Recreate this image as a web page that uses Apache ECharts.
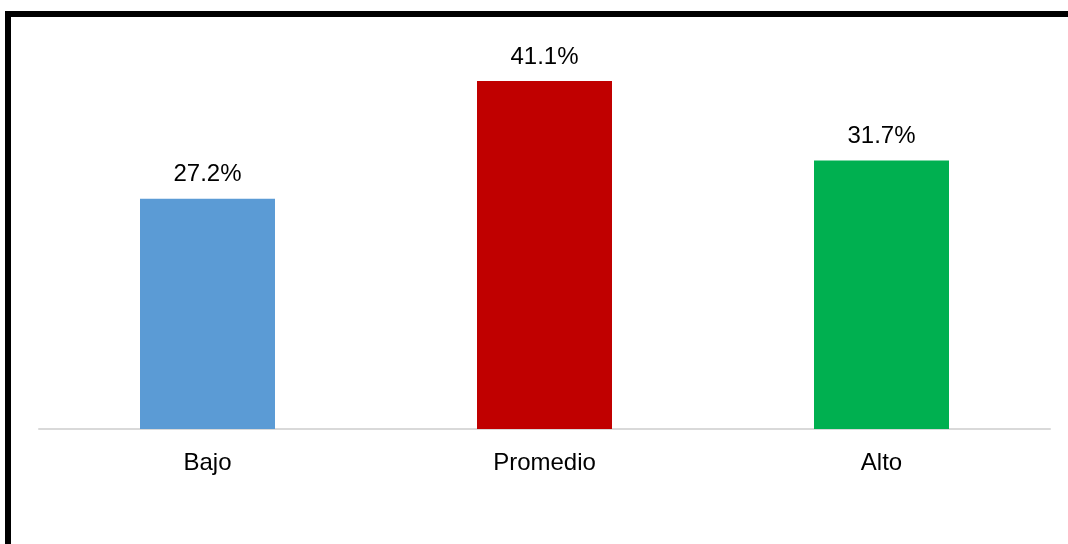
<!DOCTYPE html>
<html>
<head>
<meta charset="utf-8">
<script src="https://cdn.jsdelivr.net/npm/echarts@6/dist/echarts.min.js"></script>
<style>
  html, body { margin: 0; padding: 0; background: #fff; }
  #chart { width: 1068px; height: 544px; }
</style>
</head>
<body>
<div id="chart"></div>
<script>
const categories = ['Bajo', 'Promedio', 'Alto'];
const values = [27.2, 41.1, 31.7];
const barColors = ['#5b9bd5', '#c00000', '#00b050'];

const chart = echarts.init(document.getElementById('chart'));
chart.setOption({
  animation: false,
  graphic: [{
    type: 'rect',
    shape: { x: 8, y: 14, width: 1200, height: 700 },
    style: { fill: 'none', stroke: '#000', lineWidth: 6 },
    silent: true
  }],
  grid: { left: 39, right: 18, top: 48, bottom: 115 },
  xAxis: {
    type: 'category',
    data: categories,
    axisLine: { lineStyle: { color: '#d9d9d9', width: 2 } },
    axisTick: { show: false },
    axisLabel: {
      color: '#000',
      fontFamily: 'Liberation Sans, Arial, sans-serif',
      fontSize: 24,
      margin: 22
    }
  },
  yAxis: {
    type: 'value',
    min: 0,
    max: 45,
    show: false
  },
  series: [{
    type: 'bar',
    barWidth: 135,
    data: values.map((v, i) => ({ value: v, itemStyle: { color: barColors[i] } })),
    label: {
      show: true,
      position: 'top',
      distance: 12,
      color: '#000',
      fontFamily: 'Liberation Sans, Arial, sans-serif',
      fontSize: 24,
      formatter: (p) => p.value.toFixed(1) + '%'
    }
  }]
});
</script>
</body>
</html>
